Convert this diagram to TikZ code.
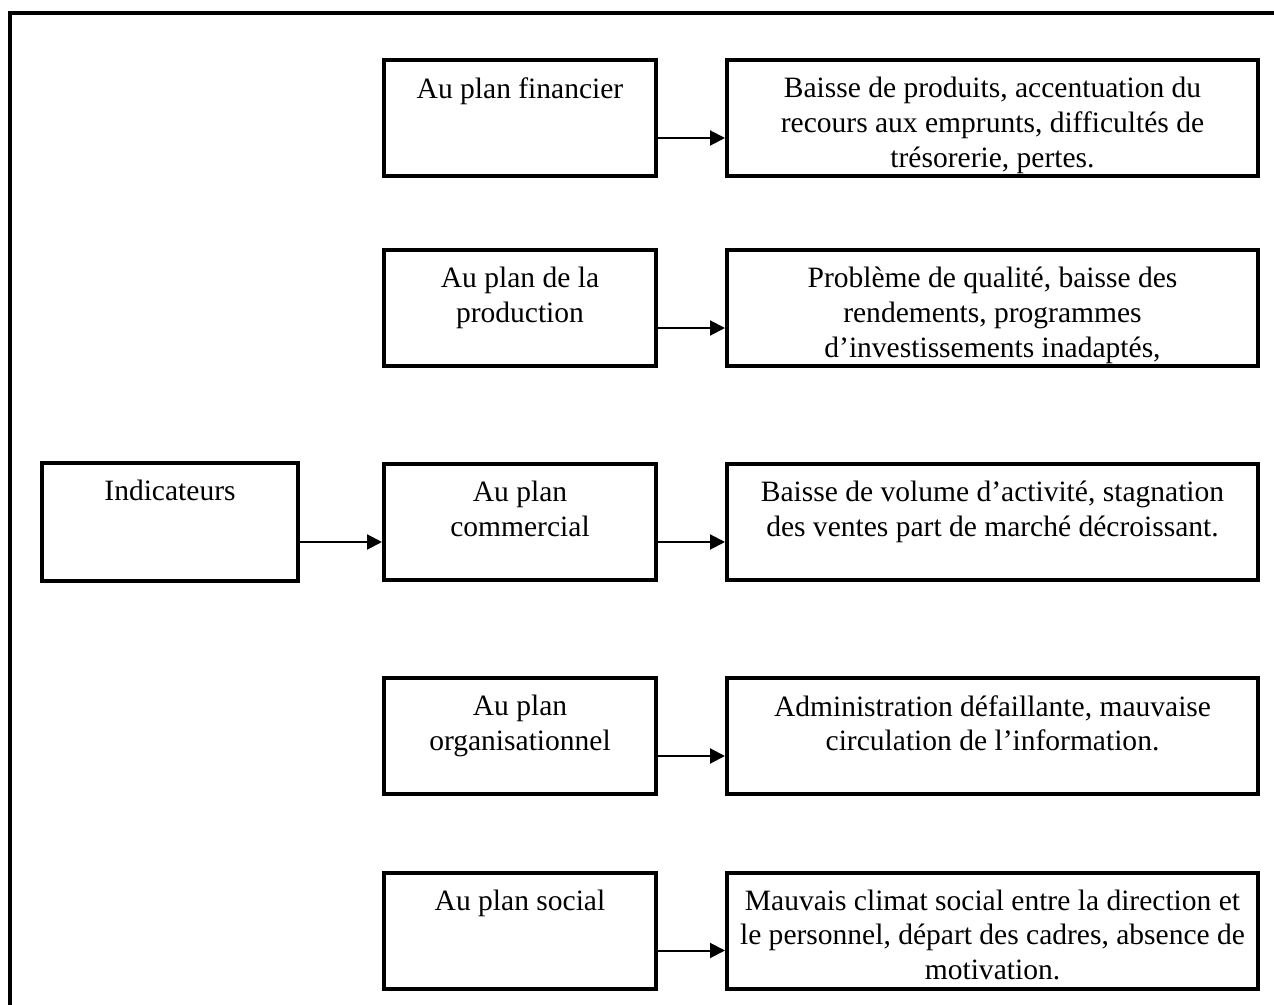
\documentclass[tikz,border=0pt]{standalone}
\usepackage{fontspec}
\setmainfont{Liberation Serif}
\usetikzlibrary{arrows.meta}
\begin{document}
\begin{tikzpicture}
            \tikzstyle{box}=[draw=black, line width=0.08cm, minimum width=5.44cm, minimum height=2.32cm, inner sep=0pt]
            \tikzstyle{wide}=[box, minimum width=10.62cm]
            \tikzstyle{txt}=[anchor=north, yshift=-0.38cm, inner sep=0pt, align=center, font=\fontsize{16.8}{19.7}\selectfont]
            \tikzstyle{arr}=[-{Triangle[length=0.3cm, width=0.3cm]}, line width=0.04cm]

            \useasboundingbox (0,0) rectangle (25.48,-20.1);
            \draw[line width=0.08cm] (0.2,-20.3) -- (0.2,-0.26) -- (25.7,-0.26);

            \node[box, minimum width=5.12cm, minimum height=2.36cm, label={[txt]north:Indicateurs}] (ind) at (3.4,-10.44) {};

            \node[box, label={[txt]north:Au plan financier}] (fin) at (10.4,-2.36) {};
            \node[box, label={[txt]north:Au plan de la\\production}] (prod) at (10.4,-6.16) {};
            \node[box, label={[txt]north:Au plan\\commercial}] (com) at (10.4,-10.44) {};
            \node[box, label={[txt]north:Au plan\\organisationnel}] (org) at (10.4,-14.72) {};
            \node[box, label={[txt]north:Au plan social}] (soc) at (10.4,-18.61) {};

            \node[wide, label={[txt]north:Baisse de produits, accentuation du\\recours aux emprunts, difficultés de\\trésorerie, pertes.}] (dfin) at (19.85,-2.36) {};
            \node[wide, label={[txt]north:Problème de qualité, baisse des\\rendements, programmes\\d’investissements inadaptés,}] (dprod) at (19.85,-6.16) {};
            \node[wide, label={[txt]north:Baisse de volume d’activité, stagnation\\des ventes part de marché décroissant.}] (dcom) at (19.85,-10.44) {};
            \node[wide, label={[txt]north:Administration défaillante, mauvaise\\circulation de l’information.}] (dorg) at (19.85,-14.72) {};
            \node[wide, label={[txt]north:Mauvais climat social entre la direction et\\le personnel, départ des cadres, absence de\\motivation.}] (dsoc) at (19.85,-18.61) {};

            \draw[arr] ([yshift=-0.4cm]ind.east) -- ([yshift=-0.4cm]com.west);
            \foreach \a/\b in {fin/dfin, prod/dprod, com/dcom, org/dorg, soc/dsoc}
                \draw[arr] ([yshift=-0.4cm]\a.east) -- ([yshift=-0.4cm]\b.west);
        \end{tikzpicture}
\end{document}
